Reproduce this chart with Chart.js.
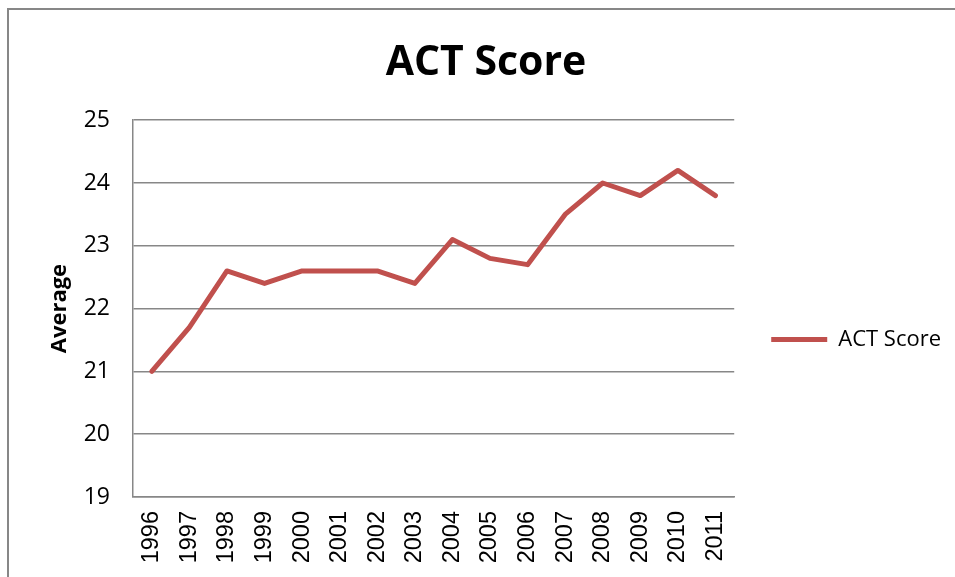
<!DOCTYPE html>
<html>
<head>
<meta charset="utf-8">
<script src="https://cdn.jsdelivr.net/npm/chart.js@4/dist/chart.umd.min.js"></script>
<style>
  html, body { margin: 0; padding: 0; background: #fff; }
  body { width: 955px; height: 577px; position: relative; overflow: hidden; }
  #frame {
    position: absolute; left: 7px; top: 8px; width: 1000px; height: 1000px;
    border-left: 2px solid #878787; border-top: 2px solid #878787;
  }
  #wrap { position: absolute; left: 0; top: 0; width: 955px; height: 577px; }
</style>
</head>
<body>
<div id="frame"></div>
<div id="wrap"><canvas id="actChart"></canvas></div>
<script>
  // ACT average score by year
  const years = ["1996", "1997", "1998", "1999", "2000", "2001", "2002", "2003",
                 "2004", "2005", "2006", "2007", "2008", "2009", "2010", "2011"];
  const actScores = [21.0, 21.7, 22.6, 22.4, 22.6, 22.6, 22.6, 22.4,
                     23.1, 22.8, 22.7, 23.5, 24.0, 23.8, 24.2, 23.8];
  const yMin = 19;
  const yMax = 25;

  const GRID = "#878787";
  const LINE = "#C0504D";

  new Chart(document.getElementById("actChart"), {
    type: "line",
    data: {
      labels: years,
      datasets: [
        {
          label: "ACT Score",
          data: actScores,
          borderColor: LINE,
          backgroundColor: LINE,
          borderWidth: 5,
          borderCapStyle: "round",
          borderJoinStyle: "round",
          pointRadius: 0,
          tension: 0,
        },
      ],
    },
    options: {
      responsive: true,
      maintainAspectRatio: false,
      animation: false,
      layout: { padding: { left: 21, right: 4, top: 0, bottom: 0 } },
      plugins: {
        title: {
          display: true,
          text: "ACT Score",
          color: "#000",
          font: { family: "'Open Sans'", size: 41, weight: "bold" },
          padding: { top: 39, bottom: 32 },
        },
        legend: {
          position: "right",
          // empty legend title only pushes the entry down to where Excel put it
          title: { display: true, text: "", font: { size: 10 }, padding: { top: 90, bottom: 0 } },
          labels: {
            usePointStyle: true,
            pointStyle: "line",
            pointStyleWidth: 56,
            padding: 37,
            color: "#000",
            font: { family: "'Open Sans'", size: 22 },
          },
        },
        tooltip: { enabled: false },
      },
      scales: {
        x: {
          offset: true,
          grid: { display: false, drawTicks: false },
          border: { display: true, color: GRID, width: 1.5 },
          ticks: {
            color: "#000",
            maxRotation: 90,
            minRotation: 90,
            padding: 14,
            font: { family: "'Liberation Sans'", size: 23.5 },
          },
          afterFit: (scale) => { scale.height = 80; },
        },
        y: {
          min: yMin,
          max: yMax,
          grid: { color: GRID, lineWidth: 1.5, drawTicks: false },
          border: { display: true, color: GRID, width: 1.5 },
          ticks: {
            stepSize: 1,
            color: "#000",
            padding: 23,
            font: { family: "'Open Sans'", size: 23 },
          },
          title: {
            display: true,
            text: "Average",
            color: "#000",
            font: { family: "'Open Sans'", size: 22, weight: "bold" },
            padding: { top: 26, bottom: 0 },
          },
          afterFit: (scale) => { scale.width = 112; },
        },
      },
    },
  });
</script>
</body>
</html>
